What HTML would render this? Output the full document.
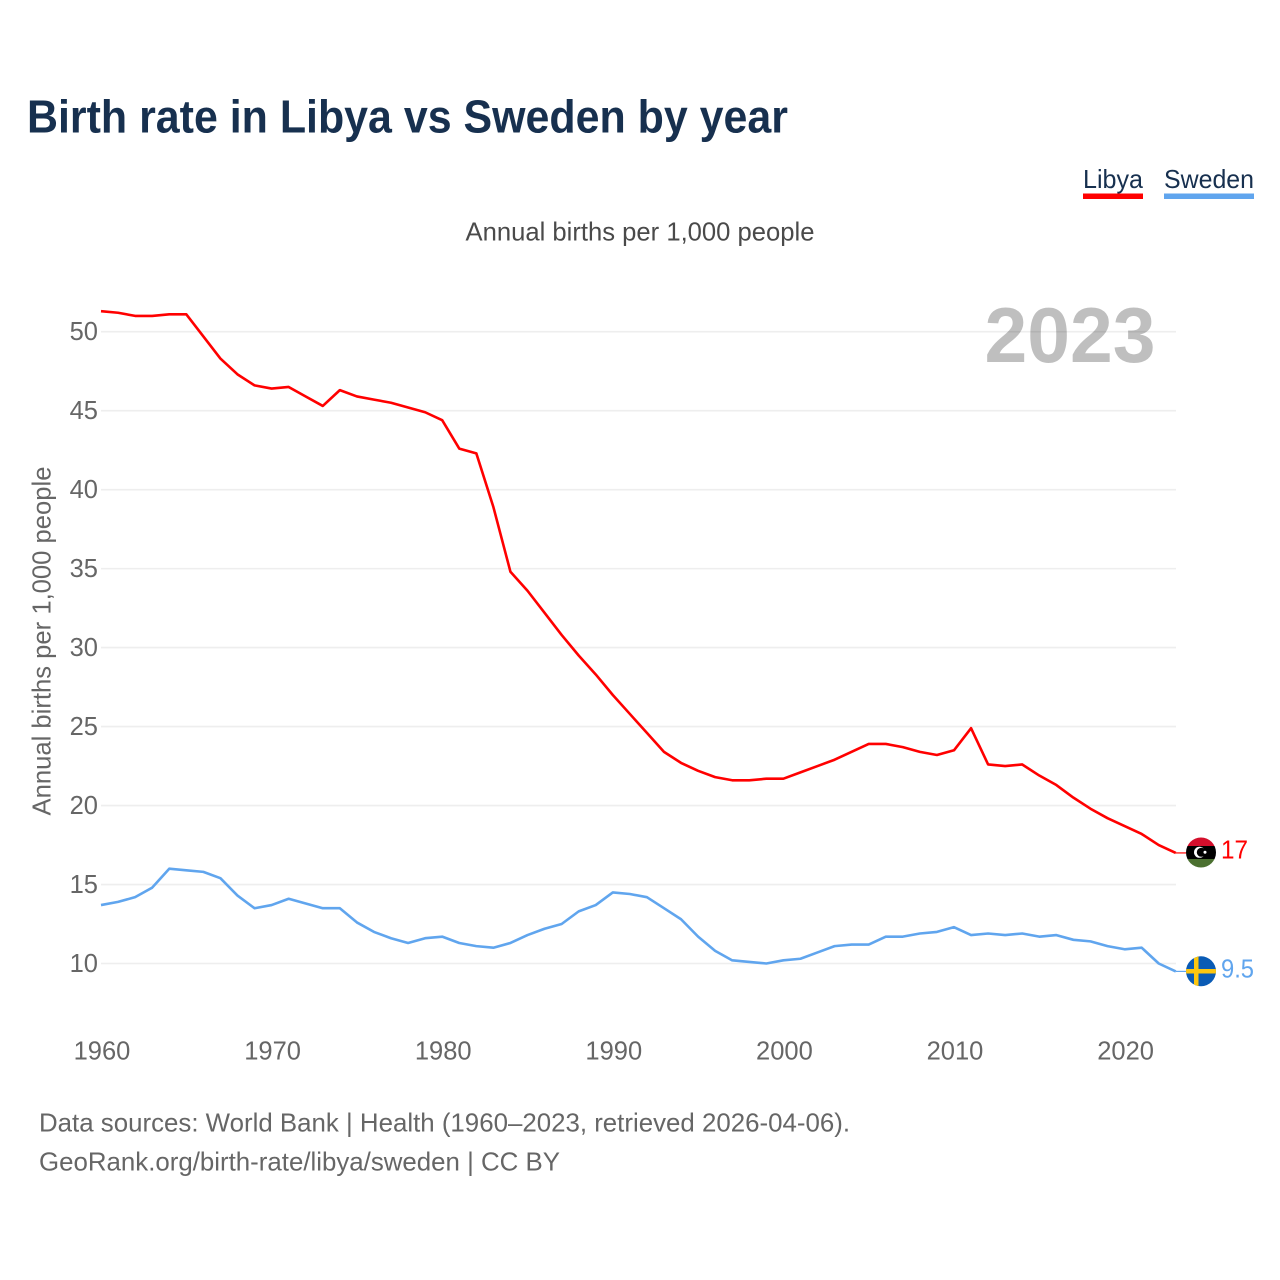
<!DOCTYPE html>
<html lang="en">
<head>
<meta charset="utf-8">
<title>Birth rate in Libya vs Sweden by year</title>
<style>
html,body{margin:0;padding:0;background:#fff;}
svg{display:block;font-family:"Liberation Sans",sans-serif;}
</style>
</head>
<body>
<svg id="chart" width="1280" height="1280" viewBox="0 0 1280 1280" xmlns="http://www.w3.org/2000/svg">
  <defs>
    <clipPath id="clip-ly"><circle cx="1201" cy="852.5" r="15"/></clipPath>
    <clipPath id="clip-se"><circle cx="1201" cy="971.3" r="15"/></clipPath>
  </defs>
  <rect width="1280" height="1280" fill="#fff"/>
  <text x="27" y="132.5" font-size="46" font-weight="700" fill="#17304f" textLength="761" lengthAdjust="spacingAndGlyphs">Birth rate in Libya vs Sweden by year</text>

  <g>
    <text x="1083" y="188" font-size="26" fill="#17304f" textLength="60" lengthAdjust="spacingAndGlyphs">Libya</text>
    <rect x="1083" y="193.5" width="60" height="5.5" fill="#ff0000"/>
  </g>
  <g>
    <text x="1164" y="188" font-size="26" fill="#17304f" textLength="90" lengthAdjust="spacingAndGlyphs">Sweden</text>
    <rect x="1164" y="193.5" width="90" height="5.5" fill="#60a5ee"/>
  </g>

  <text x="640" y="240.5" font-size="26" fill="#4a4a4a" text-anchor="middle" textLength="349" lengthAdjust="spacingAndGlyphs">Annual births per 1,000 people</text>

  <g id="grid"></g>
  <g id="yticks"></g>
  <g id="xticks"></g>

  <text transform="translate(50.5,641) rotate(-90)" font-size="26" fill="#666" text-anchor="middle" textLength="349" lengthAdjust="spacingAndGlyphs">Annual births per 1,000 people</text>

  <text x="984.5" y="362" font-size="78" font-weight="700" fill="#000" fill-opacity="0.25" textLength="171" lengthAdjust="spacingAndGlyphs">2023</text>

  <g id="series"></g>

  <g clip-path="url(#clip-ly)">
    <rect x="1186" y="837" width="30" height="9.5" fill="#d40f2c"/>
    <rect x="1186" y="846" width="30" height="13.5" fill="#000"/>
    <rect x="1186" y="859" width="30" height="10" fill="#4b7030"/>
    <circle cx="1199.5" cy="852.3" r="5.5" fill="#fff"/>
    <circle cx="1201.3" cy="852.3" r="4.5" fill="#000"/>
    <circle cx="1205" cy="852.3" r="1.5" fill="#fff"/>
  </g>
  <g clip-path="url(#clip-se)">
    <rect x="1186" y="956" width="30" height="31" fill="#0a5bb5"/>
    <rect x="1194" y="956" width="4.5" height="31" fill="#fcc60f"/>
    <rect x="1186" y="969" width="30" height="4.5" fill="#fcc60f"/>
  </g>

  <text x="1221" y="858.5" font-size="26" fill="#ff0000" textLength="27" lengthAdjust="spacingAndGlyphs">17</text>
  <text x="1221" y="977.5" font-size="26" fill="#60a5ee" textLength="33" lengthAdjust="spacingAndGlyphs">9.5</text>

  <text x="39" y="1131.5" font-size="26" fill="#666" textLength="811" lengthAdjust="spacingAndGlyphs">Data sources: World Bank | Health (1960–2023, retrieved 2026-04-06).</text>
  <text x="39" y="1170.5" font-size="26" fill="#666" textLength="521" lengthAdjust="spacingAndGlyphs">GeoRank.org/birth-rate/libya/sweden | CC BY</text>
</svg>
<script>
const years = [];
for (let yr = 1960; yr <= 2023; yr++) years.push(yr);
const libyaValues = [51.3,51.2,51.0,51.0,51.1,51.1,49.7,48.3,47.3,46.6,46.4,46.5,45.9,45.3,46.3,45.9,45.7,45.5,45.2,44.9,44.4,42.6,42.3,38.9,34.8,33.6,32.2,30.8,29.5,28.3,27.0,25.8,24.6,23.4,22.7,22.2,21.8,21.6,21.6,21.7,21.7,22.1,22.5,22.9,23.4,23.9,23.9,23.7,23.4,23.2,23.5,24.9,22.6,22.5,22.6,21.9,21.3,20.5,19.8,19.2,18.7,18.2,17.5,17.0];
const swedenValues = [13.7,13.9,14.2,14.8,16.0,15.9,15.8,15.4,14.3,13.5,13.7,14.1,13.8,13.5,13.5,12.6,12.0,11.6,11.3,11.6,11.7,11.3,11.1,11.0,11.3,11.8,12.2,12.5,13.3,13.7,14.5,14.4,14.2,13.5,12.8,11.7,10.8,10.2,10.1,10.0,10.2,10.3,10.7,11.1,11.2,11.2,11.7,11.7,11.9,12.0,12.3,11.8,11.9,11.8,11.9,11.7,11.8,11.5,11.4,11.1,10.9,11.0,10.0,9.5];
const yTickValues = [10,15,20,25,30,35,40,45,50];
const xTickValues = [1960,1970,1980,1990,2000,2010,2020];

const NS = 'http://www.w3.org/2000/svg';
function xScale(year){ return 101 + (year - 1960) * 17.06; }
function yScale(v){ return 963.5 - (v - 10) * 15.795; }
function make(tag, attrs){
  const el = document.createElementNS(NS, tag);
  for (const k in attrs) el.setAttribute(k, attrs[k]);
  return el;
}
const grid = document.getElementById('grid');
const yticks = document.getElementById('yticks');
const xticks = document.getElementById('xticks');
const series = document.getElementById('series');

yTickValues.forEach(function(v){
  const line = make('line', {x1:101, x2:1176, y1:yScale(v), y2:yScale(v), stroke:'#eeeeee', 'stroke-width':1.6});
  
  
  grid.appendChild(line);
  const t = make('text', {x:98, y:yScale(v) + 8.5, 'font-size':25.5, fill:'#666', 'text-anchor':'end'});
  
  
  t.textContent = v;
  yticks.appendChild(t);
});

xTickValues.forEach(function(v){
  const t = make('text', {x:xScale(v) + 1, y:1059.5, 'font-size':25.5, fill:'#666', 'text-anchor':'middle'});
  
  
  t.textContent = v;
  xticks.appendChild(t);
});

function pathFor(vals){
  return vals.map(function(v, i){ return (i ? 'L' : 'M') + xScale(years[i]).toFixed(2) + ' ' + yScale(v).toFixed(2); }).join('');
}

const swedenLine = make('path', {d:pathFor(swedenValues), fill:'none', stroke:'#60a5ee', 'stroke-width':2.6, 'stroke-linejoin':'round'});


series.appendChild(swedenLine);

const libyaLine = make('path', {d:pathFor(libyaValues), fill:'none', stroke:'#ff0000', 'stroke-width':2.6, 'stroke-linejoin':'round'});


series.appendChild(libyaLine);

const lastX = xScale(years[years.length - 1]);
const libyaLast = yScale(libyaValues[libyaValues.length - 1]);
const swedenLast = yScale(swedenValues[swedenValues.length - 1]);

const libyaConnector = make('line', {x1:lastX, x2:1186, y1:libyaLast, y2:libyaLast, stroke:'#ff0000', 'stroke-width':1.2});


series.appendChild(libyaConnector);

const swedenConnector = make('line', {x1:lastX, x2:1186, y1:swedenLast, y2:swedenLast, stroke:'#60a5ee', 'stroke-width':1.2});


series.appendChild(swedenConnector);
</script>
</body>
</html>
